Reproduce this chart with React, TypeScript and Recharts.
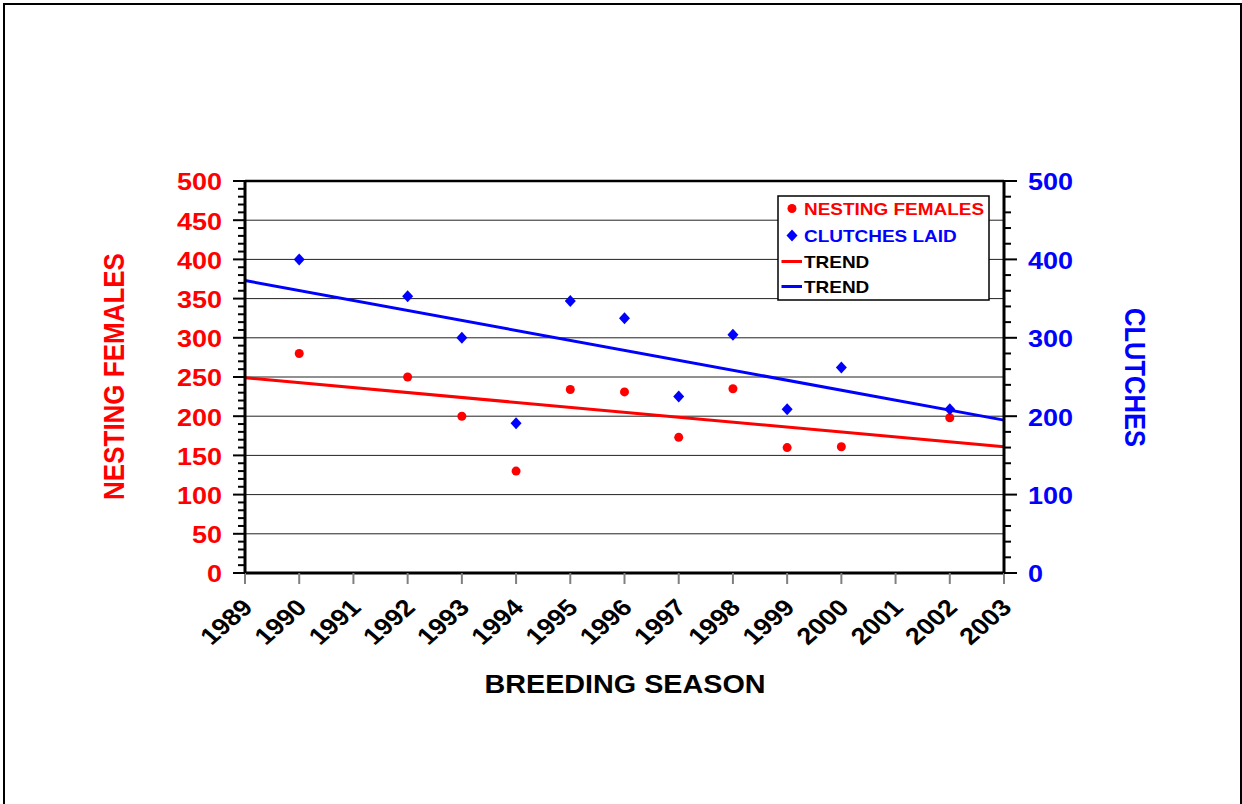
import { ComposedChart, Scatter, Line, XAxis, YAxis, ReferenceLine, Legend } from 'recharts';

// breeding seasons on the x axis
const YEARS = [1989, 1990, 1991, 1992, 1993, 1994, 1995, 1996, 1997, 1998, 1999, 2000, 2001, 2002, 2003];
const SURVEY_YEARS = [1990, 1992, 1993, 1994, 1995, 1996, 1997, 1998, 1999, 2000, 2002];
const NESTING_FEMALES = [280, 250, 200, 130, 234, 231, 173, 235, 160, 161, 198];
const CLUTCHES_LAID = [400, 353, 300, 191, 347, 325, 225, 304, 209, 262, 209];

const TREND_YEARS = [1989, 2003];
const FEMALES_TREND = [249, 161];
const CLUTCHES_TREND = [373, 195];

const LEFT_LABELS = [0, 50, 100, 150, 200, 250, 300, 350, 400, 450, 500];
const RIGHT_LABELS = [0, 100, 200, 300, 400, 500];
const GRID_VALUES = [50, 100, 150, 200, 250, 300, 350, 400, 450];
const LEFT_MINOR_STEP = 10;
const RIGHT_MINOR_STEP = 20;

const RED = '#ff0000';
const BLUE = '#0000ff';
const FONT = "'Liberation Sans', Arial, sans-serif";
const STRETCH = 'scale(1.15,1)';

const leftTicks = Array.from({ length: 500 / LEFT_MINOR_STEP + 1 }, (_, i) => i * LEFT_MINOR_STEP);
const rightTicks = Array.from({ length: 500 / RIGHT_MINOR_STEP + 1 }, (_, i) => i * RIGHT_MINOR_STEP);

const femalesData = SURVEY_YEARS.map((year, i) => ({ year, value: NESTING_FEMALES[i] }));
const clutchesData = SURVEY_YEARS.map((year, i) => ({ year, value: CLUTCHES_LAID[i] }));
const femalesTrend = TREND_YEARS.map((year, i) => ({ year, value: FEMALES_TREND[i] }));
const clutchesTrend = TREND_YEARS.map((year, i) => ({ year, value: CLUTCHES_TREND[i] }));

const LeftTick = ({ x, y, payload }: any) => {
  const major = LEFT_LABELS.includes(payload.value);
  return (
    <g>
      <line x1={x - (major ? 12 : 7)} x2={x} y1={y} y2={y} stroke="#000" strokeWidth={2} />
      {major && (
        <g transform={`translate(${x - 23},${y + 1}) ${STRETCH}`}>
          <text x={0} y={0} dy="0.36em" textAnchor="end" fontSize={23.5} fontWeight="bold" fontFamily={FONT} fill={RED}>
            {payload.value}
          </text>
        </g>
      )}
    </g>
  );
};

const RightTick = ({ x, y, payload }: any) => {
  const major = RIGHT_LABELS.includes(payload.value);
  return (
    <g>
      <line x1={x} x2={x + (major ? 13 : 7)} y1={y} y2={y} stroke="#000" strokeWidth={2} />
      {major && (
        <g transform={`translate(${x + 24},${y + 1}) ${STRETCH}`}>
          <text x={0} y={0} dy="0.36em" textAnchor="start" fontSize={23.5} fontWeight="bold" fontFamily={FONT} fill={BLUE}>
            {payload.value}
          </text>
        </g>
      )}
    </g>
  );
};

const YearTick = ({ x, y, payload }: any) => (
  <g>
    <line x1={x} x2={x} y1={y} y2={y + 11} stroke="#808080" strokeWidth={2} />
    <g transform={`translate(${x + 9},${y + 36}) ${STRETCH} rotate(-45)`}>
      <text x={0} y={0} textAnchor="end" fontSize={23.5} fontWeight="bold" fontFamily={FONT} fill="#000">
        {payload.value}
      </text>
    </g>
  </g>
);

const Dot = ({ cx, cy }: any) => <circle cx={cx} cy={cy} r={4.5} fill={RED} />;
const Diamond = ({ cx, cy }: any) => (
  <polygon points={`${cx},${cy - 6} ${cx + 5.5},${cy} ${cx},${cy + 6} ${cx - 5.5},${cy}`} fill={BLUE} />
);

const LegendBox = () => {
  const rows = [13.5, 40.5, 66.5, 91.5];
  const txt = (y: number, label: string, color: string) => (
    <g transform={`translate(27,${y + 6}) ${STRETCH}`}>
      <text x={0} y={0} fontSize={16.5} fontWeight="bold" fontFamily={FONT} fill={color}>
        {label}
      </text>
    </g>
  );
  return (
    <svg width={213} height={107} style={{ display: 'block' }}>
      <rect x={1} y={1} width={211} height={104} fill="#fff" stroke="#000" strokeWidth={1.5} />
      <circle cx={15} cy={rows[0]} r={4.5} fill={RED} />
      {txt(rows[0], 'NESTING FEMALES', RED)}
      <polygon points={`15,${rows[1] - 6} 20.5,${rows[1]} 15,${rows[1] + 6} 9.5,${rows[1]}`} fill={BLUE} />
      {txt(rows[1], 'CLUTCHES LAID', BLUE)}
      <line x1={4.5} x2={25} y1={rows[2]} y2={rows[2]} stroke={RED} strokeWidth={3} />
      {txt(rows[2], 'TREND', '#000')}
      <line x1={4.5} x2={25} y1={rows[3]} y2={rows[3]} stroke={BLUE} strokeWidth={3} />
      {txt(rows[3], 'TREND', '#000')}
    </svg>
  );
};

export default function App() {
  return (
    <div style={{ position: 'absolute', left: 0, top: 0, width: 1242, height: 804, background: '#fff' }}>
      <div
        style={{
          position: 'absolute',
          left: 3,
          top: 3,
          width: 1239,
          height: 801,
          boxSizing: 'border-box',
          borderTop: '2px solid #000',
          borderLeft: '2px solid #000',
          borderRight: '2px solid #000',
        }}
      />
      <div style={{ position: 'absolute', left: 0, top: 0 }}>
        <ComposedChart width={1242} height={804} margin={{ top: 181, right: 178, bottom: 171, left: 185 }}>
          <XAxis
            type="number"
            dataKey="year"
            domain={[1989, 2003]}
            ticks={YEARS}
            interval={0}
            height={60}
            tickLine={false}
            tickSize={0}
            tickMargin={0}
            tick={<YearTick />}
            axisLine={{ stroke: '#000', strokeWidth: 3 }}
            label={{
              content: () => (
                <g transform={`translate(625,693) ${STRETCH}`}>
                  <text x={0} y={0} textAnchor="middle" fontSize={25} fontWeight="bold" fontFamily={FONT} fill="#000">
                    BREEDING SEASON
                  </text>
                </g>
              ),
            }}
          />
          <YAxis
            yAxisId="left"
            type="number"
            domain={[0, 500]}
            ticks={leftTicks}
            interval={0}
            width={60}
            tickLine={false}
            tickSize={0}
            tickMargin={0}
            tick={<LeftTick />}
            axisLine={{ stroke: '#000', strokeWidth: 3 }}
            label={{
              content: () => (
                <g transform={`translate(113,376.5) ${STRETCH} rotate(-90)`}>
                  <text x={0} y={0} dy="0.36em" textAnchor="middle" fontSize={26} fontWeight="bold" fontFamily={FONT} fill={RED}>
                    NESTING FEMALES
                  </text>
                </g>
              ),
            }}
          />
          <YAxis
            yAxisId="right"
            orientation="right"
            type="number"
            domain={[0, 500]}
            ticks={rightTicks}
            interval={0}
            width={60}
            tickLine={false}
            tickSize={0}
            tickMargin={0}
            tick={<RightTick />}
            axisLine={{ stroke: '#000', strokeWidth: 3 }}
            label={{
              content: () => (
                <g transform={`translate(1136,377.5) ${STRETCH} rotate(90)`}>
                  <text x={0} y={0} dy="0.36em" textAnchor="middle" fontSize={25.5} fontWeight="bold" fontFamily={FONT} fill={BLUE}>
                    CLUTCHES
                  </text>
                </g>
              ),
            }}
          />
          {GRID_VALUES.map((v) => (
            <ReferenceLine key={v} yAxisId="left" y={v} stroke="#222" strokeWidth={1} />
          ))}
          <ReferenceLine yAxisId="left" y={500} stroke="#000" strokeWidth={2.5} />
          <Line
            yAxisId="left"
            data={femalesTrend}
            dataKey="value"
            stroke={RED}
            strokeWidth={3}
            dot={false}
            activeDot={false}
            isAnimationActive={false}
          />
          <Line
            yAxisId="right"
            data={clutchesTrend}
            dataKey="value"
            stroke={BLUE}
            strokeWidth={3}
            dot={false}
            activeDot={false}
            isAnimationActive={false}
          />
          <Scatter yAxisId="left" data={femalesData} dataKey="value" shape={<Dot />} isAnimationActive={false} />
          <Scatter yAxisId="right" data={clutchesData} dataKey="value" shape={<Diamond />} isAnimationActive={false} />
          <Legend
            layout="horizontal"
            verticalAlign="middle"
            align="center"
            wrapperStyle={{ left: 777, top: 195, width: 213, height: 107 }}
            content={() => <LegendBox />}
          />
        </ComposedChart>
      </div>
    </div>
  );
}
